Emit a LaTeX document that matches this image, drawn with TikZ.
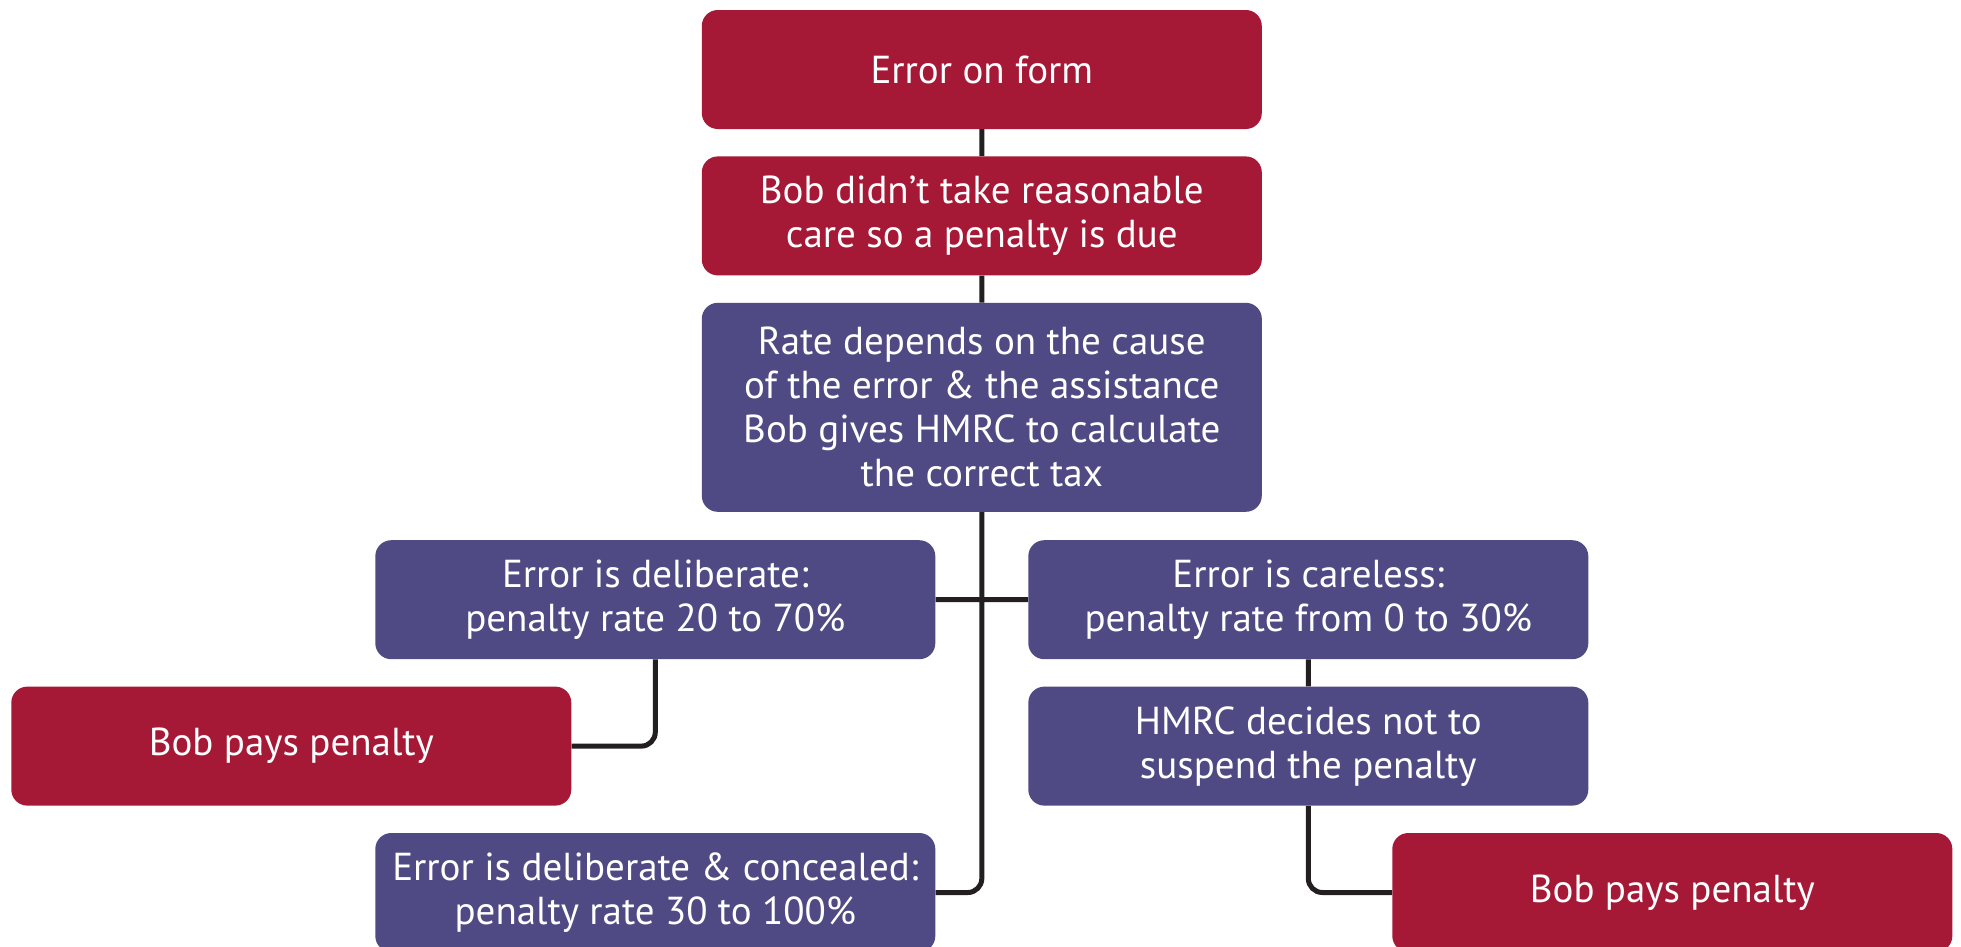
\documentclass[tikz,border=0pt]{standalone}
\usepackage{fontspec}
\setmainfont{PT Sans}
\usetikzlibrary{positioning}
\definecolor{hmrcred}{RGB}{166,25,54}
\definecolor{hmrcpurple}{RGB}{79,74,132}
\definecolor{linkgray}{RGB}{35,31,32}

\begin{document}
\begin{tikzpicture}[x=1pt,y=-1pt,node distance=27pt,
                    box/.style={rounded corners=16pt,minimum width=560pt,minimum height=119pt,
                      inner sep=0pt,text=white,align=center,font=\fontsize{39}{44}\selectfont},
                    redbox/.style={box,fill=hmrcred},
                    purplebox/.style={box,fill=hmrcpurple},
                    link/.style={draw=linkgray,line width=5pt,rounded corners=14pt}]
  \useasboundingbox (0,0) rectangle (1961,946);

  \node[redbox]    (form)    at (981.8,69.5) {Error on form};
  \node[redbox]    (care)    [below=of form] {Bob didn't take reasonable\\care so a penalty is due};
  \node[purplebox,minimum height=209pt] (rate) [below=of care]
    {Rate depends on the cause\\of the error \& the assistance\\Bob gives HMRC to calculate\\the correct tax};
  \node[purplebox] (delib)   [below=28pt of rate,xshift=-326.5pt] {Error is deliberate:\\penalty rate 20 to 70\%};
  \node[purplebox] (careless) [below=28pt of rate,xshift=326.5pt] {Error is careless:\\penalty rate from 0 to 30\%};
  \node[redbox]    (paysA)   [below=of delib,xshift=-364pt] {Bob pays penalty};
  \node[purplebox] (suspend) [below=of careless] {HMRC decides not to\\suspend the penalty};
  \node[purplebox] (conceal) [below=of paysA,xshift=364pt] {Error is deliberate \& concealed:\\penalty rate 30 to 100\%};
  \node[redbox]    (paysB)   [below=of suspend,xshift=364pt] {Bob pays penalty};

  \path[link] (form) -- (care)
              (care) -- (rate)
              (rate.south) |- (conceal.east)
              (delib.east) -- (careless.west)
              (delib.south) |- (paysA.east)
              (careless) -- (suspend)
              (suspend.south) |- (paysB.west);
\end{tikzpicture}
\end{document}
